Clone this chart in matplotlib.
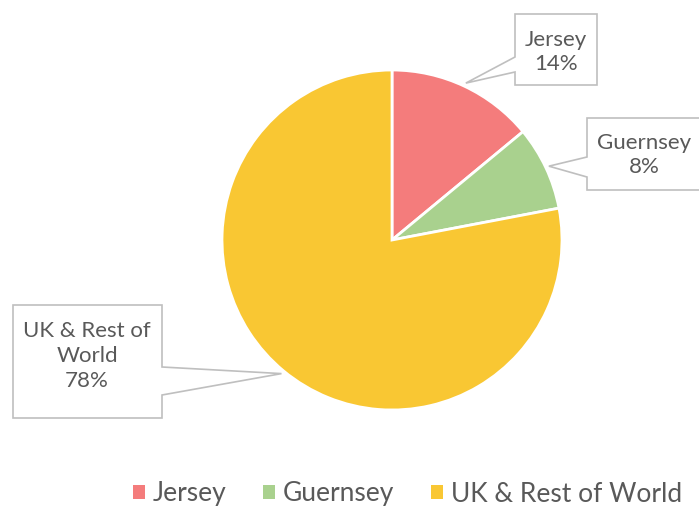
import numpy as np
import matplotlib
matplotlib.use("Agg")
from matplotlib import pyplot as plt
from matplotlib.patches import Polygon, Patch

labels = ["Jersey", "Guernsey", "UK & Rest of World"]
label_text = ["Jersey", "Guernsey", "UK & Rest of\nWorld"]
shares = [14, 8, 78]
colors = ["#F47C7C", "#A9D18E", "#F9C733"]

W, H = 699, 508
CX, CY, R = 392, 240, 170   # pie centre / radius in pixels (y down)
TEXT = "#595959"
FONT = "Lato"

# callout boxes: (left, top, right, bottom), side, wedge attach y's, text centre
boxes = [
    ((515, 14, 597, 85), "left", (57, 72), (556, 52)),
    ((587, 118, 705, 190), "left", (157, 177), (644, 155)),
    ((13, 305, 162, 418), "right", (367, 395), (87, 356)),
]


def up(y):
    return H - y


def callout(ax, box, side, attach, tip):
    l, t, r, b = box
    a0, a1 = attach
    if side == "left":
        pts = [(l, t), (r, t), (r, b), (l, b), (l, a1), tip, (l, a0)]
    else:
        pts = [(l, t), (r, t), (r, a0), tip, (r, a1), (r, b), (l, b)]
    pts = [(x, up(y)) for x, y in pts]
    ax.add_patch(Polygon(pts, closed=True, facecolor="white",
                         edgecolor="#BFBFBF", linewidth=1.2, zorder=3))


fig = plt.figure(figsize=(W / 100, H / 100), dpi=100)
ax = fig.add_axes([0, 0, 1, 1])

ax.pie(shares, colors=colors, startangle=90, counterclock=False,
       center=(CX, up(CY)), radius=R,
       wedgeprops=dict(edgecolor="white", linewidth=2))

# tips of callouts at the wedge mid angles
cum = np.cumsum([0] + shares[:-1])
mids = 90 - (cum + np.array(shares) / 2) / sum(shares) * 360
for i, (box, side, attach, tc) in enumerate(boxes):
    ang = np.deg2rad(mids[i])
    tip = (CX + 1.02 * R * np.cos(ang), CY - 1.02 * R * np.sin(ang))
    callout(ax, box, side, attach, tip)
    ax.text(tc[0], up(tc[1]), f"{label_text[i]}\n{shares[i]}%",
            ha="center", va="center", fontsize=16, color=TEXT,
            family=FONT, linespacing=1.3, zorder=4)

ax.set_xlim(0, W)
ax.set_ylim(0, H)
ax.set_aspect("equal")
ax.axis("off")

handles = [Patch(facecolor=c, edgecolor="none") for c in colors]
fig.legend(handles, labels, loc="center", bbox_to_anchor=(0.583, 1 - 494 / H),
           ncol=3, frameon=False, handlelength=0.45, handleheight=0.45,
           handletextpad=0.3, columnspacing=1.4,
           prop=dict(family=FONT, size=19), labelcolor=TEXT)

fig.savefig("out.png", dpi=100)
